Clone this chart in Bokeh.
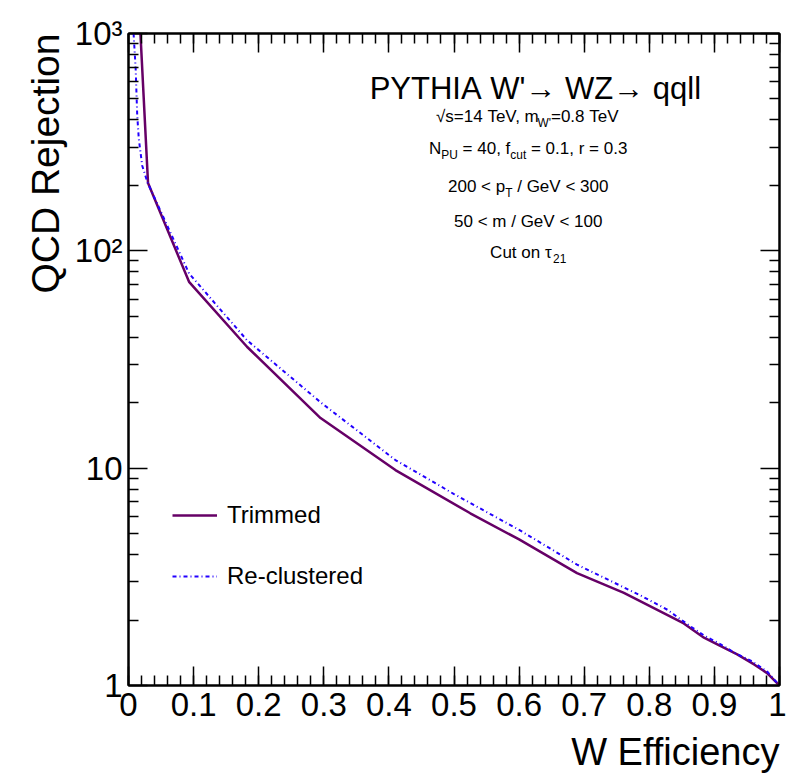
import numpy as np
from bokeh.plotting import figure
from bokeh.models import (Range1d, FixedTicker, LinearAxis, LogAxis, Title, Label,
                          CustomJSTickFormatter)
from bokeh.embed import file_html
from bokeh.resources import INLINE

# ---------------- data ----------------
trim_eff = [0.017, 0.030, 0.093, 0.182, 0.295, 0.410, 0.525, 0.600, 0.689,
            0.761, 0.853, 0.884, 0.909, 0.935, 0.961, 0.981, 1.000]
trim_rej = [1200, 205, 72.0, 36.2, 17.0, 9.8, 6.2, 4.7, 3.29,
            2.67, 1.93, 1.66, 1.52, 1.39, 1.25, 1.14, 1.00]

reclus_eff = [0.0078, 0.011, 0.0134, 0.0158, 0.021, 0.029, 0.093, 0.182, 0.295,
              0.410, 0.500, 0.600, 0.689, 0.787, 0.828, 0.861, 0.884, 0.909,
              0.932, 0.958, 0.981, 1.000]
reclus_rej = [1000, 688, 420, 328, 247, 207, 78.7, 38.8, 20.1,
              10.9, 7.6, 5.2, 3.6, 2.59, 2.23, 1.89, 1.70, 1.55,
              1.41, 1.29, 1.16, 1.00]

x_ticks = [0.0, 0.1, 0.2, 0.3, 0.4, 0.5, 0.6, 0.7, 0.8, 0.9, 1.0]
x_tick_labels = ["0", "0.1", "0.2", "0.3", "0.4", "0.5", "0.6", "0.7", "0.8", "0.9", "1"]
y_ticks = [1, 10, 100, 1000]
y_tick_labels = ["1", "10", "10\u00b2", "10\u00b3"]

series_names = ["Trimmed", "Re-clustered"]
x_title = "W Efficiency"
y_title = "QCD Rejection"

FONT = "Liberation Sans"

# ---------------- figure ----------------
p = figure(width=786, height=782, output_backend="svg", toolbar_location=None,
           x_range=Range1d(0, 1), y_range=Range1d(1, 1000), y_axis_type="log",
           min_border_left=128, min_border_right=7, min_border_top=33,
           min_border_bottom=96)
p.xgrid.visible = False
p.ygrid.visible = False
p.outline_line_color = "black"
p.outline_line_width = 2
p.background_fill_color = "white"
p.border_fill_color = "white"

x_minor = np.round(np.arange(0, 1.0001, 0.02), 3).tolist()
y_minor = [m * 10 ** k for k in range(3) for m in range(2, 10)]

xfmt = CustomJSTickFormatter(args=dict(t=x_ticks, l=x_tick_labels), code="""
for (let i = 0; i < t.length; i++) { if (Math.abs(t[i] - tick) < 1e-9) return l[i]; }
return '';
""")
yfmt = CustomJSTickFormatter(args=dict(t=y_ticks, l=y_tick_labels), code="""
for (let i = 0; i < t.length; i++) { if (Math.abs(t[i] - tick) < 1e-6 * t[i]) return l[i]; }
return '';
""")
blank = CustomJSTickFormatter(code="return '';")


def style_axis(ax):
    ax.axis_line_width = 2
    ax.axis_line_color = "black"
    ax.major_tick_in = 19
    ax.major_tick_out = 0
    ax.minor_tick_in = 10
    ax.minor_tick_out = 0
    ax.major_tick_line_width = 1.5
    ax.minor_tick_line_width = 1.5
    ax.major_label_text_font = FONT
    ax.major_label_text_font_size = "33px"
    ax.major_label_text_color = "black"


xa = p.xaxis[0]
xa.ticker = FixedTicker(ticks=x_ticks, minor_ticks=x_minor)
xa.formatter = xfmt
xa.major_label_standoff = 7
style_axis(xa)

ya = p.yaxis[0]
ya.ticker = FixedTicker(ticks=y_ticks, minor_ticks=y_minor)
ya.formatter = yfmt
ya.major_label_standoff = 6
style_axis(ya)

top = LinearAxis(ticker=FixedTicker(ticks=x_ticks, minor_ticks=x_minor), formatter=blank)
style_axis(top)
p.add_layout(top, "above")
right = LogAxis(ticker=FixedTicker(ticks=y_ticks, minor_ticks=y_minor), formatter=blank)
style_axis(right)
p.add_layout(right, "right")

p.add_layout(Title(text=x_title, align="right", text_font=FONT,
                   text_font_size="38px", text_font_style="normal",
                   text_color="black", standoff=20), "below")
p.add_layout(Title(text=y_title, align="right", text_font=FONT,
                   text_font_size="39px", text_font_style="normal",
                   text_color="black"), "left")

# ---------------- curves ----------------
p.line(trim_eff, trim_rej, line_color="#660066", line_width=2.5,
       legend_label=series_names[0])
p.line(reclus_eff, reclus_rej, line_color="#2200ff", line_width=2,
       line_dash="4 3 1 3", legend_label=series_names[1])

lg = p.legend[0]
lg.location = (44, 95)
lg.padding = 0
lg.margin = 0
lg.spacing = 33
lg.glyph_width = 45
lg.glyph_height = 24
lg.label_height = 24
lg.label_standoff = 10
lg.label_text_font = FONT
lg.label_text_font_size = "24px"
lg.label_text_color = "black"
lg.border_line_color = None
lg.background_fill_alpha = 0

# ---------------- annotation text ----------------
W = {' ': 278, '=': 584, '<': 584, ',': 278, '.': 278, '/': 278, "'": 191,
     'T': 611, 'e': 556, 'V': 667, 'm': 833, 'W': 944, 'N': 722, 'P': 667,
     'U': 722, 'f': 278, 'c': 500, 'u': 556, 't': 278, 'r': 333, 'p': 556,
     'G': 778, 'C': 722, 'o': 556, 'n': 556, 's': 500, '\u03c4': 480,
     '\u221a': 270, 'Y': 667, 'H': 722, 'I': 278, 'A': 667, 'Z': 611,
     'q': 556, 'l': 222, '\u2192': 1000}


def tw(s, size):
    return sum(W.get(ch, 556) for ch in s) / 1000.0 * size


def rich(segs, x, y, size):
    widths = [tw(t, size * (0.7 if k == "sub" else 1.0)) for t, k in segs]
    off = -sum(widths) / 2.0
    for (t, k), w in zip(segs, widths):
        fs = size * 0.7 if k == "sub" else size
        yo = -0.4 * size if k == "sub" else 0
        p.add_layout(Label(x=x, y=y, x_offset=off, y_offset=yo,
                           text=t.replace(" ", "\u00a0"),
                           text_font=FONT, text_font_size=f"{fs:.1f}px",
                           text_align="left", text_baseline="middle",
                           text_color="black"))
        off += w


cx = 0.614
rich([("PYTHIA W'\u2192 WZ\u2192 qqll", "n")], 0.625, 558, 31)
rich([("\u221as=14 TeV, m", "n"), ("W'", "sub"), ("=0.8 TeV", "n")], cx, 415, 17)
rich([("N", "n"), ("PU", "sub"), (" = 40, f", "n"), ("cut", "sub"),
      (" = 0.1, r = 0.3", "n")], cx, 296, 17)
rich([("200 < p", "n"), ("T", "sub"), (" / GeV < 300", "n")], cx, 198, 17)
rich([("50 < m / GeV < 100", "n")], cx, 137, 17)
rich([("Cut on \u03c4", "n"), ("21", "sub")], cx, 98.6, 17)

open("out.html", "w").write(file_html(p, INLINE))
